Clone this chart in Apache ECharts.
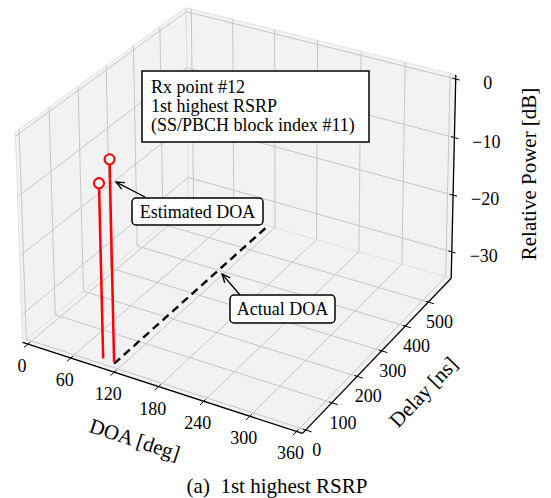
<!DOCTYPE html>
<html><head><meta charset="utf-8">
<script src="https://cdn.jsdelivr.net/npm/echarts@6/dist/echarts.min.js"></script>
<style>html,body{margin:0;padding:0;background:#fff}#c{width:551px;height:498px}</style>
</head><body><div id="c"></div>
<script>
// ---------------- data ----------------
const doaTicks = [0, 60, 120, 180, 240, 300, 360];
const delayTicks = [0, 100, 200, 300, 400, 500];
const powerTicks = [0, -10, -20, -30];
const powerTickLabels = ['0', '\u221210', '\u221220', '\u221230'];
const estDOA = [98, 113];        // deg
const estDelay = [5, 5];         // ns
const estPower = [-4.7, -0.3];   // dB
const actualDOA = [115, 115];
const actualDelay = [0, 590];
const actualPower = [-34, -34];
const stemBase = -34;
const doaLim = [0, 360], delayLim = [0, 590], powerLim = [-34, 0];

// ---------------- layout ----------------
const W = 551, H = 498;
const FONT = "'Liberation Serif','Times New Roman',serif";
const pad = r => (r[1] - r[0]) / 48;
const boxOf = r => [r[0] - pad(r), r[1] + pad(r)];
const BX = boxOf(doaLim), BY = boxOf(delayLim), BZ = boxOf(powerLim);
const nrm = (v, b) => (v - b[0]) / (b[1] - b[0]);

// camera calibration: box corners and axis tick points on screen
const calib = [
  [0,0,0,24,342],[1,0,0,303,432],[1,1,0,449,278],[1,1,1,456,75],[0,1,1,187,7],[0,0,1,15,133]
];
const doaTickPx = [[27,344],[70,358],[115,372],[158,387],[203,401],[249,416],[297,431]];
const delayTickPx = [[306,430],[332,403],[357,378],[382,350],[407,327],[432,303]];
const powerTickPx = [[456,79],[454,137],[452,195],[450,252]];
doaTicks.forEach((t,i)=>calib.push([nrm(t,BX),0,0,doaTickPx[i][0],doaTickPx[i][1]]));
delayTicks.forEach((t,i)=>calib.push([1,nrm(t,BY),0,delayTickPx[i][0],delayTickPx[i][1]]));
powerTicks.forEach((t,i)=>calib.push([1,1,nrm(t,BZ),powerTickPx[i][0],powerTickPx[i][1]]));

function fitCamera(pts){
  const N=11, M=[...Array(N)].map(()=>new Array(N).fill(0)), R=new Array(N).fill(0);
  const add=(row,rhs)=>{for(let i=0;i<N;i++){R[i]+=row[i]*rhs;for(let j=0;j<N;j++)M[i][j]+=row[i]*row[j];}};
  pts.forEach(([X,Y,Z,u,v])=>{
    add([X,Y,Z,1,0,0,0,0,-u*X,-u*Y,-u*Z],u);
    add([0,0,0,0,X,Y,Z,1,-v*X,-v*Y,-v*Z],v);
  });
  for(let i=0;i<N;i++){
    let p=i;for(let k=i+1;k<N;k++)if(Math.abs(M[k][i])>Math.abs(M[p][i]))p=k;
    [M[i],M[p]]=[M[p],M[i]];[R[i],R[p]]=[R[p],R[i]];
    for(let k=i+1;k<N;k++){const f=M[k][i]/M[i][i];for(let j=i;j<N;j++)M[k][j]-=f*M[i][j];R[k]-=f*R[i];}
  }
  const x=new Array(N).fill(0);
  for(let i=N-1;i>=0;i--){let s=R[i];for(let j=i+1;j<N;j++)s-=M[i][j]*x[j];x[i]=s/M[i][i];}
  return x;
}
const C = fitCamera(calib);
function projN(a,b,c){
  const w=C[8]*a+C[9]*b+C[10]*c+1;
  return [(C[0]*a+C[1]*b+C[2]*c+C[3])/w,(C[4]*a+C[5]*b+C[6]*c+C[7])/w];
}
const P = (doa,delay,pw) => projN(nrm(doa,BX),nrm(delay,BY),nrm(pw,BZ));

// --------------- renderers ---------------
function txt(x,y,text,size,align,rot){
  return {type:'text',x:x,y:y,rotation:rot||0,style:{text:text,x:0,y:0,fill:'#000',font:size+'px '+FONT,align:align||'center',verticalAlign:'middle'}};
}
function seg(api,p,q,stroke,lw,dash){
  const a=api.coord(p),b=api.coord(q);
  return {type:'line',shape:{x1:a[0],y1:a[1],x2:b[0],y2:b[1]},style:{stroke:stroke,lineWidth:lw,lineDash:dash||null}};
}
function poly(api,pts,fill,stroke){
  return {type:'polygon',shape:{points:pts.map(p=>api.coord(p))},style:{fill:fill,stroke:stroke,lineWidth:1}};
}

function renderBox(params,api){
  const ch=[];
  const paneFill='#f2f2f2', paneEdge='#e2e2e2', gridC='#c6c6c6';
  ch.push(poly(api,[projN(0,0,0),projN(1,0,0),projN(1,1,0),projN(0,1,0)],paneFill,paneEdge));
  ch.push(poly(api,[projN(0,0,0),projN(0,1,0),projN(0,1,1),projN(0,0,1)],paneFill,paneEdge));
  ch.push(poly(api,[projN(0,1,0),projN(1,1,0),projN(1,1,1),projN(0,1,1)],paneFill,paneEdge));
  // grid
  doaTicks.forEach(t=>{const a=nrm(t,BX);
    ch.push(seg(api,projN(a,0,0),projN(a,1,0),gridC,1));
    ch.push(seg(api,projN(a,1,0),projN(a,1,1),gridC,1));});
  delayTicks.forEach(t=>{const b=nrm(t,BY);
    ch.push(seg(api,projN(0,b,0),projN(1,b,0),gridC,1));
    ch.push(seg(api,projN(0,b,0),projN(0,b,1),gridC,1));});
  powerTicks.forEach(t=>{const c=nrm(t,BZ);
    ch.push(seg(api,projN(0,0,c),projN(0,1,c),gridC,1));
    ch.push(seg(api,projN(0,1,c),projN(1,1,c),gridC,1));});
  // axes
  ch.push(seg(api,projN(0,0,0),projN(1,0,0),'#000',1.3));
  ch.push(seg(api,projN(1,0,0),projN(1,1,0),'#000',1.3));
  ch.push(seg(api,projN(1,1,0),projN(1,1,1),'#000',1.3));
  doaTicks.forEach(t=>{const a=nrm(t,BX);
    ch.push(seg(api,projN(a,-0.022,0),projN(a,0.012,0),'#000',1));
    const p=api.coord(projN(a,0,0)); ch.push(txt(p[0]-6,p[1]+22,String(t),18));});
  delayTicks.forEach(t=>{const b=nrm(t,BY);
    ch.push(seg(api,projN(1.02,b,0),projN(0.99,b,0),'#000',1));
    const p=api.coord(projN(1,b,0)); ch.push(txt(p[0]+11,p[1]+20,String(t),18));});
  powerTicks.forEach((t,i)=>{const c=nrm(t,BZ);
    ch.push(seg(api,projN(0.988,1,c),projN(1.014,1,c),'#000',1));
    const p=api.coord(projN(1,1,c)); ch.push(txt(p[0]+32,p[1]+4,powerTickLabels[i],18));});
  // axis labels
  const d0=api.coord(projN(0,0,0)), d1=api.coord(projN(1,0,0)), dm=api.coord(projN(0.5,0,0));
  ch.push(txt(dm[0]-24,dm[1]+53,'DOA [deg]',21,'center',-Math.atan2(d1[1]-d0[1],d1[0]-d0[0])));
  const e0=api.coord(projN(1,0,0)), e1=api.coord(projN(1,1,0)), em=api.coord(projN(1,0.5,0));
  ch.push(txt(em[0]+43,em[1]+40,'Delay [ns]',21,'center',-Math.atan2(e1[1]-e0[1],e1[0]-e0[0])));
  const zm=api.coord(projN(1,1,0.5));
  ch.push(txt(zm[0]+76,zm[1]-4,'Relative Power [dB]',21,'center',Math.PI/2));
  ch.push(txt(277,486,'(a)\u00a0 1st highest RSRP',21));
  return {type:'group',children:ch};
}

function renderActual(params,api){
  const a=P(api.value(0),api.value(1),api.value(2)), b=P(api.value(3),api.value(4),api.value(5));
  return seg(api,a,b,'#000',2.4,[8,5]);
}
function renderStem(params,api){
  const d=api.value(0),t=api.value(1),p=api.value(2);
  const cb=api.coord(P(d,t,stemBase)), ct=api.coord(P(d,t,p));
  return {type:'group',children:[
    {type:'line',shape:{x1:cb[0],y1:cb[1],x2:ct[0],y2:ct[1]},style:{stroke:'#ff0000',lineWidth:2.5}},
    {type:'circle',shape:{cx:ct[0],cy:ct[1],r:5},style:{fill:'#ffffff',stroke:'#ff0000',lineWidth:2}}
  ]};
}
function arrow(api,from,to){
  const a=api.coord(from), b=api.coord(to);
  const ang=Math.atan2(b[1]-a[1],b[0]-a[0]), L=9, s=0.42;
  const h1=[b[0]-L*Math.cos(ang-s),b[1]-L*Math.sin(ang-s)], h2=[b[0]-L*Math.cos(ang+s),b[1]-L*Math.sin(ang+s)];
  return [
    {type:'line',shape:{x1:a[0],y1:a[1],x2:b[0],y2:b[1]},style:{stroke:'#000',lineWidth:1.4}},
    {type:'polyline',shape:{points:[h1,b,h2]},style:{stroke:'#000',lineWidth:1.4,fill:null}}
  ];
}
function renderNotes(params,api){
  const ch=[];
  const F=18;
  ch.push({type:'rect',shape:{x:142,y:71,width:227,height:71},style:{fill:'#fff',stroke:'#000',lineWidth:1.5}});
  ch.push(txt(151,87,'Rx point #12',F,'left'));
  ch.push(txt(151,106,'1st highest RSRP',F,'left'));
  ch.push(txt(151,125,'(SS/PBCH block index #11)',F,'left'));
  const tipE=P(estDOA[1],estDelay[1],-4); tipE[0]+=6;
  arrow(api,[145,197],tipE).forEach(e=>ch.push(e));
  ch.push({type:'rect',shape:{x:132,y:198,width:131,height:27,r:4},style:{fill:'#fff',stroke:'#000',lineWidth:1.5}});
  ch.push(txt(197.5,211.5,'Estimated DOA',F));
  const tipA=P(actualDOA[0],370,actualPower[0]); tipA[0]+=8;
  arrow(api,[240,295],tipA).forEach(e=>ch.push(e));
  ch.push({type:'rect',shape:{x:230,y:295,width:105,height:28,r:4},style:{fill:'#fff',stroke:'#000',lineWidth:1.5}});
  ch.push(txt(282.5,309,'Actual DOA',F));
  return {type:'group',children:ch};
}

const chart = echarts.init(document.getElementById('c'), null, {renderer:'svg', width:W, height:H});
chart.setOption({
  animation:false,
  grid:{left:0,right:0,top:0,bottom:0},
  xAxis:{type:'value',min:0,max:W,show:false},
  yAxis:{type:'value',min:0,max:H,inverse:true,show:false},
  series:[
    {type:'custom',name:'box',silent:true,clip:false,renderItem:renderBox,data:[[0,0]],z:1},
    {type:'custom',name:'Actual DOA',silent:true,clip:false,renderItem:renderActual,
      data:[[actualDOA[0],actualDelay[0],actualPower[0],actualDOA[1],actualDelay[1],actualPower[1]]],z:2},
    {type:'custom',name:'Estimated DOA',silent:true,clip:false,renderItem:renderStem,
      data:estDOA.map((d,i)=>[d,estDelay[i],estPower[i]]),z:3},
    {type:'custom',name:'notes',silent:true,clip:false,renderItem:renderNotes,data:[[0,0]],z:4}
  ]
});
</script></body></html>
